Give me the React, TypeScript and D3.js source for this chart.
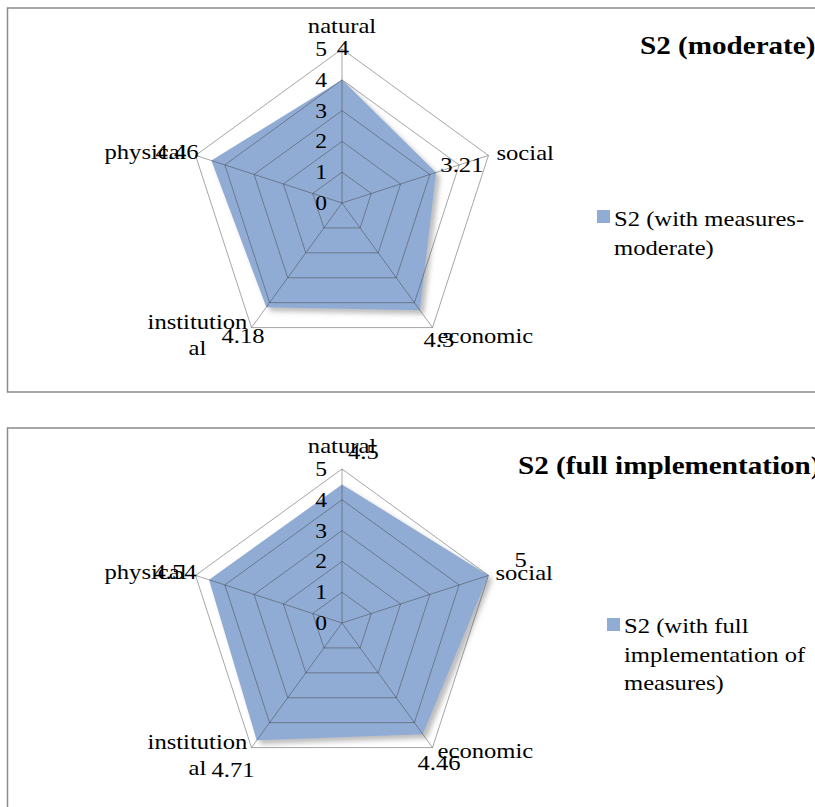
import React from "react";
import * as d3 from "d3";

// ---------- data ----------
const categories = ["natural", "social", "economic", "institutional", "physical"];
const valuesModerate = [4, 3.21, 4.3, 4.18, 4.46];
const valuesFull = [4.5, 5, 4.46, 4.71, 4.54];
const valueLabelsModerate = ["4", "3.21", "4.3", "4.18", "4.46"];
const valueLabelsFull = ["4.5", "5", "4.46", "4.71", "4.54"];
const tickValues = [0, 1, 2, 3, 4, 5];
const chartTitles = ["S2 (moderate)", "S2 (full implementation)"];
const legendModerate = ["S2 (with measures-", "moderate)"];
const legendFull = ["S2 (with full", "implementation of", "measures)"];

// ---------- layout ----------
const W = 815;
const H = 807;
const R = 154;
const SX = 1.12;
const FONT = "Liberation Serif, Times New Roman, serif";
const FILL = "#91ACD4";

// category label offsets relative to outer vertex: [dx, dy, anchor]
const catOffsets: [number, number, string][] = [
  [0, -16, "middle"],
  [8, 5, "start"],
  [5, 15, "start"],
  [-54, 1, "middle"],
  [-9, 4, "end"],
];
const catOffsetsFull: [number, number, string][] = [
  [0, -16, "middle"],
  [7, 5, "start"],
  [5, 10, "start"],
  [-54, 1, "middle"],
  [-9, 4, "end"],
];
const valOffsetsModerate: [number, number, string][] = [
  [1, 6, "middle"],
  [-5, 17, "end"],
  [-9, 19, "start"],
  [-30, 15, "start"],
  [3, 4, "end"],
];
const valOffsetsFull: [number, number, string][] = [
  [6, -10, "start"],
  [26, -8, "start"],
  [-15, 22, "start"],
  [-40, 29, "start"],
  [1, 4, "end"],
];

const charts = [
  {
    oy: 0,
    values: valuesModerate,
    valueLabels: valueLabelsModerate,
    valOffsets: valOffsetsModerate,
    catOffsets: catOffsets,
    title: chartTitles[0],
    titleX: 640,
    legend: legendModerate,
    legendX: 597,
    legendY: 210,
    legendBase: 226,
    boxH: 384,
  },
  {
    oy: 420,
    values: valuesFull,
    valueLabels: valueLabelsFull,
    valOffsets: valOffsetsFull,
    catOffsets: catOffsetsFull,
    title: chartTitles[1],
    titleX: 518,
    legend: legendFull,
    legendX: 607,
    legendY: 618,
    legendBase: 633 - 420,
    boxH: 420,
  },
];

function T(props: {
  x: number;
  y: number;
  anchor?: string;
  size?: number;
  weight?: string;
  children: React.ReactNode;
}) {
  const { x, y, anchor = "start", size = 22, weight = "normal", children } = props;
  return (
    <text
      transform={`translate(${x},${y}) scale(${SX},1)`}
      textAnchor={anchor as any}
      style={{ fontFamily: FONT, fontSize: `${size}px`, fontWeight: weight as any }}
      fill="#000"
    >
      {children}
    </text>
  );
}

function Radar({ c, idx }: { c: (typeof charts)[number]; idx: number }) {
  const cx = 342;
  const cy = 203 + c.oy;
  const r = d3.scaleLinear().domain([0, 5]).range([0, R]);
  const angle = (i: number) => (i * 2 * Math.PI) / categories.length;
  const ring = d3
    .lineRadial<number>()
    .angle((_, i) => angle(i))
    .radius((d) => r(d))
    .curve(d3.curveLinearClosed);
  const pt = (i: number, v: number) => [cx + r(v) * Math.sin(angle(i)), cy - r(v) * Math.cos(angle(i))];
  const lineStroke = "#3a3a3a";
  const lineOp = 0.45;
  return (
    <g>
      <rect x={7.5} y={8 + c.oy} width={840} height={c.boxH} fill="#fff" stroke="#8a8a8a" strokeWidth={1.5} />
      <g transform={`translate(${cx},${cy})`}>
        <path d={ring(c.values) || ""} fill={FILL} filter={`url(#sh${idx})`} />
        {tickValues
          .filter((t) => t > 0)
          .map((t) => (
            <path key={t} d={ring(categories.map(() => t)) || ""} fill="none" stroke={lineStroke} strokeOpacity={lineOp} strokeWidth={1} />
          ))}
        {categories.map((_, i) => {
          const [x, y] = pt(i, 5);
          return <line key={i} x1={0} y1={0} x2={x - cx} y2={y - cy} stroke={lineStroke} strokeOpacity={lineOp} strokeWidth={1} />;
        })}
      </g>
      {tickValues.map((t) => (
        <T key={t} x={327} y={cy - r(t) + 7} anchor="end" size={21}>
          {t}
        </T>
      ))}
      {categories.map((cat, i) => {
        const [x, y] = pt(i, 5);
        const [dx, dy, an] = c.catOffsets[i];
        if (cat === "institutional") {
          return (
            <g key={cat}>
              <T x={x + dx} y={y + dy} anchor={an}>institution</T>
              <T x={x + dx} y={y + dy + 26} anchor={an}>al</T>
            </g>
          );
        }
        return (
          <T key={cat} x={x + dx} y={y + dy} anchor={an}>
            {cat}
          </T>
        );
      })}
      {c.valueLabels.map((lab, i) => {
        const [x, y] = pt(i, 5);
        const [dx, dy, an] = c.valOffsets[i];
        return (
          <T key={i} x={x + dx} y={y + dy} anchor={an}>
            {lab}
          </T>
        );
      })}
      <T x={c.titleX} y={54 + c.oy} size={26} weight="bold">
        {c.title}
      </T>
      <rect x={c.legendX} y={c.legendY} width={13} height={13} fill={FILL} />
      {c.legend.map((l, k) => (
        <T key={k} x={c.legendX + 17} y={c.legendBase + c.oy + k * 28.5}>
          {l}
        </T>
      ))}
    </g>
  );
}

export default function App() {
  return (
    <svg width={W} height={H} style={{ position: "absolute", left: 0, top: 0, background: "#fff" }}>
      <defs>
        {charts.map((_, i) => (
          <filter key={i} id={`sh${i}`} x="-20%" y="-20%" width="140%" height="140%">
            <feDropShadow dx={4} dy={4} stdDeviation={2.5} floodColor="#7a7a7a" floodOpacity={0.5} />
          </filter>
        ))}
      </defs>
      <rect width={W} height={H} fill="#fff" />
      {charts.map((c, i) => (
        <Radar key={i} c={c} idx={i} />
      ))}
    </svg>
  );
}
